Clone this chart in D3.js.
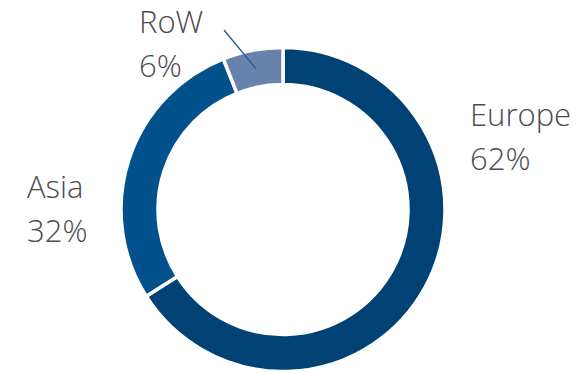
<!DOCTYPE html>
<html><head><meta charset="utf-8">
<script src="https://cdn.jsdelivr.net/npm/d3@7"></script>
<style>html,body{margin:0;padding:0;background:#fff;}svg{display:block;}</style>
</head><body>
<script>
const categories = ["Europe", "Asia", "RoW"];
// NOTE: these differ from the printed labels below (62/32/6); the reference itself is inconsistent.
const values = [66, 28, 6];
const labels = ["62%", "32%", "6%"];
const colors = ["#004274", "#00518C", "#6783AC"];

const W = 585, H = 373, cx = 283, cy = 209.5, rOuter = 162, rInner = 125;
const svg = d3.select("body").append("svg").attr("width", W).attr("height", H);
const g = svg.append("g").attr("transform", `translate(${cx},${cy})`);
const pie = d3.pie().sort(null).value(d => d)(values);
const arc = d3.arc().innerRadius(rInner).outerRadius(rOuter);
g.selectAll("path").data(pie).join("path")
  .attr("d", arc).attr("fill", (d, i) => colors[i])
  .attr("stroke", "#fff").attr("stroke-width", 3.5).attr("stroke-linejoin", "miter");

// leader line for RoW
const rowArc = pie[2];
const mid = (rowArc.startAngle + rowArc.endAngle) / 2;
const pIn = [Math.sin(mid) * 143, -Math.cos(mid) * 143];
svg.append("line").attr("x1", 224).attr("y1", 30)
  .attr("x2", cx + pIn[0]).attr("y2", cy + pIn[1])
  .attr("stroke", "#1F5C99").attr("stroke-width", 1.3);

const labelPos = [[470, 126], [27, 198], [139, 33]];
const lineGap = 44;
categories.forEach((c, i) => {
  const t = svg.append("text").attr("x", labelPos[i][0]).attr("y", labelPos[i][1])
    .attr("font-family", "Open Sans").attr("font-weight", 300).attr("font-size", 31).attr("fill", "#4D4A50");
  t.append("tspan").attr("x", labelPos[i][0]).text(c);
  t.append("tspan").attr("x", labelPos[i][0]).attr("dy", lineGap).text(labels[i]);
});
</script>
</body></html>
